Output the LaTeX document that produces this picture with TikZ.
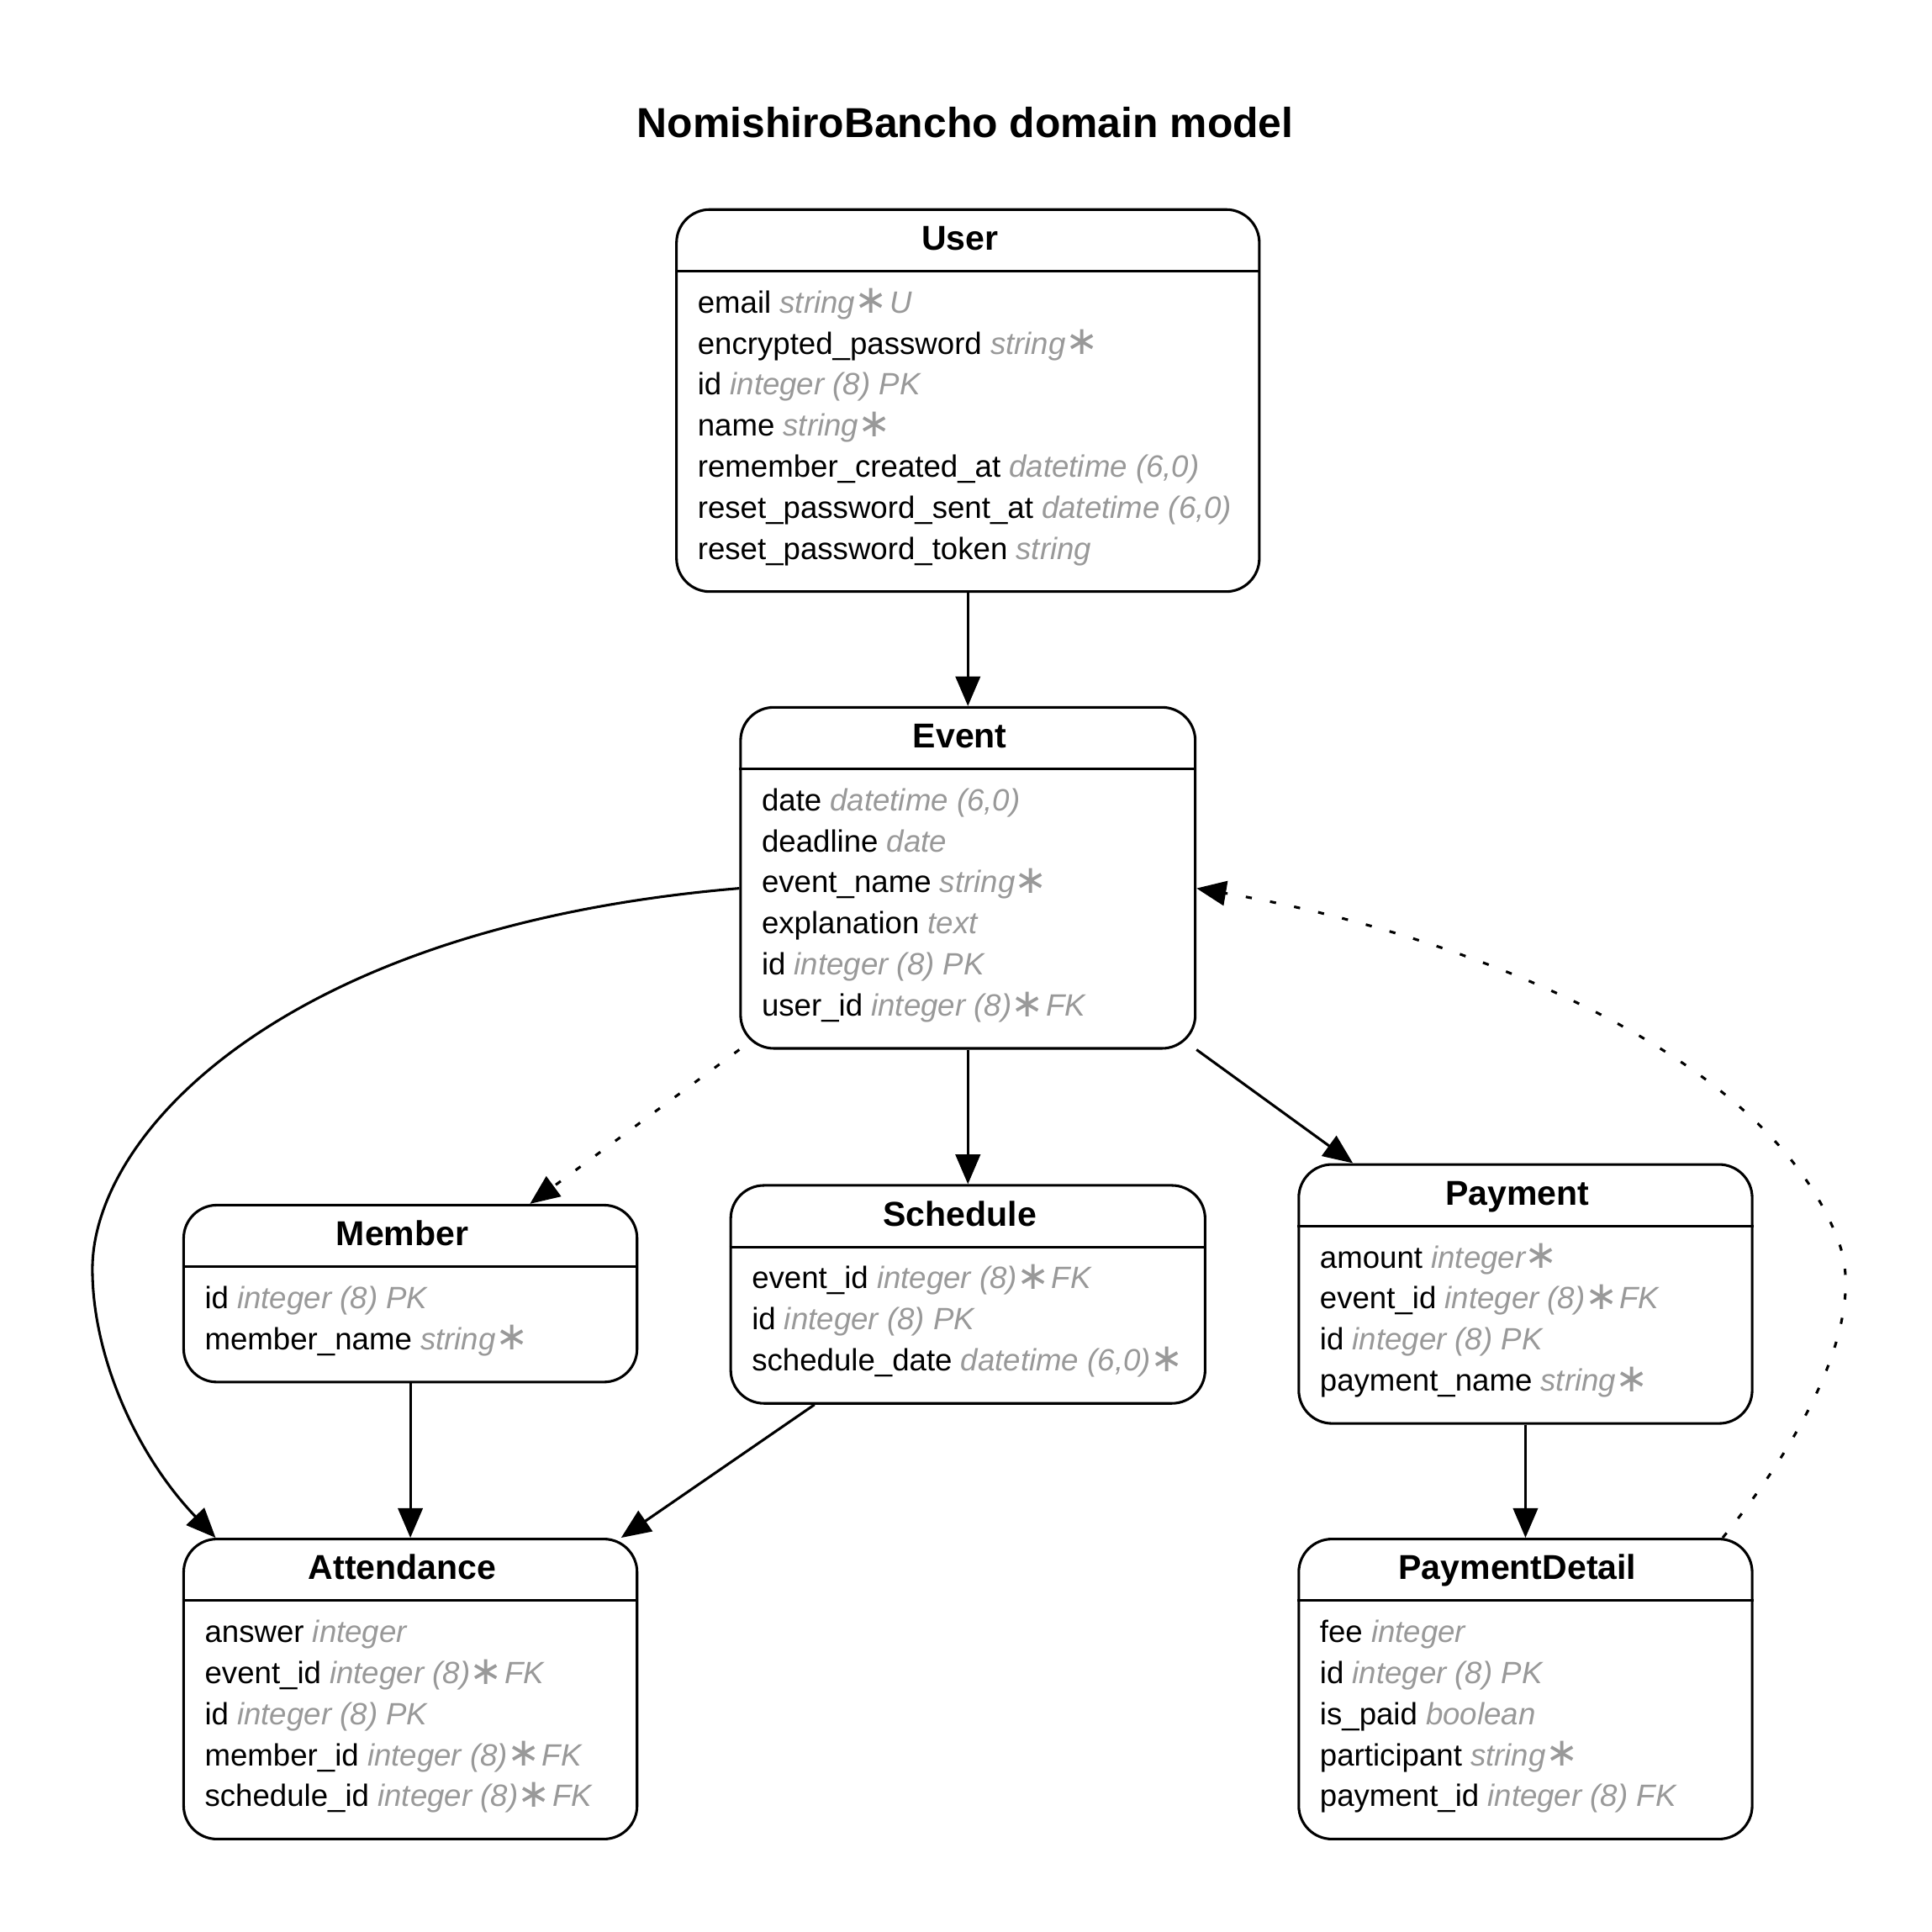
\documentclass[tikz,border=0pt]{standalone}
\usepackage{graphicx}
\usepackage{fontspec}
\setmainfont{Liberation Sans}
\newfontfamily\astfont{DejaVu Sans}
\usetikzlibrary{arrows.meta,calc}
\definecolor{ftype}{HTML}{999999}

% attribute type in grey italics, required marker
\newcommand\ty[1]{{\color{ftype}\itshape #1}}
\newcommand\req{\hspace{5pt}\makebox[16pt][c]{\raisebox{-0.5pt}{\scalebox{1.28}{\astfont\upshape ∗}}}}

% entity box: name, left x, top y, width, number of rows, title
\newcommand\entity[6]{%
  \node[entbox, minimum width=#4, minimum height={51+33.3*#5+26}, anchor=north west] (#1) at (#2,-#3) {};
  \draw[rule] ([yshift=-51]#1.north west) -- ([yshift=-51]#1.north east);
  \node[enttitle] (#1-title) at ([xshift=-6.5,yshift=-34]#1.north) {#6};
}
% attribute row: entity, row index, content
\newcommand\erow[3]{%
  \node[row] (#1-r#2) at ($(#1.north west)+(18,{-85-33.3*(#2-1)})$) {#3};
}

\begin{document}
\begin{tikzpicture}[x=1pt,y=1pt,
  entbox/.style={draw, line width=2.1pt, rounded corners=27pt, inner sep=0pt, fill=white},
  rule/.style={line width=2.1pt},
  enttitle/.style={anchor=base, inner sep=0pt, font=\fontsize{28}{34}\selectfont\bfseries},
  row/.style={anchor=base west, inner sep=0pt, font=\fontsize{25}{30}\selectfont},
  rel/.style={line width=2.1pt, -{Triangle[length=24pt,width=20pt]}},
  weak/.style={rel, dash pattern=on 5pt off 15pt},
]
\fill[white] (0,0) rectangle (1568,-1568);
\useasboundingbox (0,0) rectangle (1568,-1568);

\node[anchor=base, inner sep=0pt, font=\fontsize{34}{40}\selectfont\bfseries] (heading) at (783.4,-111.4) {NomishiroBancho domain model};

% entities
\entity{User}{548}{169}{473}{7}{User}
\erow{User}{1}{email \ty{string\req{} U}}
\erow{User}{2}{encrypted\_password \ty{string\req}}
\erow{User}{3}{id \ty{integer (8) PK}}
\erow{User}{4}{name \ty{string\req}}
\erow{User}{5}{remember\_created\_at \ty{datetime (6,0)}}
\erow{User}{6}{reset\_password\_sent\_at \ty{datetime (6,0)}}
\erow{User}{7}{reset\_password\_token \ty{string}}

\entity{Event}{600}{573}{369}{6}{Event}
\erow{Event}{1}{date \ty{datetime (6,0)}}
\erow{Event}{2}{deadline \ty{date}}
\erow{Event}{3}{event\_name \ty{string\req}}
\erow{Event}{4}{explanation \ty{text}}
\erow{Event}{5}{id \ty{integer (8) PK}}
\erow{Event}{6}{user\_id \ty{integer (8)\req{} FK}}

\entity{Member}{148}{977}{368}{2}{Member}
\erow{Member}{1}{id \ty{integer (8) PK}}
\erow{Member}{2}{member\_name \ty{string\req}}

\entity{Schedule}{592}{961}{385}{3}{Schedule}
\erow{Schedule}{1}{event\_id \ty{integer (8)\req{} FK}}
\erow{Schedule}{2}{id \ty{integer (8) PK}}
\erow{Schedule}{3}{schedule\_date \ty{datetime (6,0)\req}}

\entity{Payment}{1053}{944}{368}{4}{Payment}
\erow{Payment}{1}{amount \ty{integer\req}}
\erow{Payment}{2}{event\_id \ty{integer (8)\req{} FK}}
\erow{Payment}{3}{id \ty{integer (8) PK}}
\erow{Payment}{4}{payment\_name \ty{string\req}}

\entity{Attendance}{148}{1248}{368}{5}{Attendance}
\erow{Attendance}{1}{answer \ty{integer}}
\erow{Attendance}{2}{event\_id \ty{integer (8)\req{} FK}}
\erow{Attendance}{3}{id \ty{integer (8) PK}}
\erow{Attendance}{4}{member\_id \ty{integer (8)\req{} FK}}
\erow{Attendance}{5}{schedule\_id \ty{integer (8)\req{} FK}}

\entity{PaymentDetail}{1053}{1248}{368}{5}{PaymentDetail}
\erow{PaymentDetail}{1}{fee \ty{integer}}
\erow{PaymentDetail}{2}{id \ty{integer (8) PK}}
\erow{PaymentDetail}{3}{is\_paid \ty{boolean}}
\erow{PaymentDetail}{4}{participant \ty{string\req}}
\erow{PaymentDetail}{5}{payment\_id \ty{integer (8) FK}}

% relationships
\draw[rel] (User.south) -- (Event.north);
\draw[rel] (Event.south) -- (Schedule.north);
\draw[rel] (Event.south east) -- ([xshift=45]Payment.north west);
\draw[weak] (Event.south west) -- ([xshift=-88]Member.north east);
\draw[rel] (Member.south) -- (Attendance.north);
\draw[rel] ([xshift=69]Schedule.south west) -- ([xshift=-14]Attendance.north east);
\draw[rel] (Payment.south) -- (PaymentDetail.north);
\draw[rel] ([yshift=-8.5]Event.west) .. controls (230,-752) and (75,-920) .. (75,-1030)
  .. controls (75,-1100) and (110,-1180) .. ([xshift=27]Attendance.north west);
\draw[weak] ([xshift=-25]PaymentDetail.north east) .. controls (1470,-1160) and (1513,-1068) .. (1493,-1010)
  .. controls (1440,-860) and (1200,-760) .. ([yshift=-8.5]Event.east);
\end{tikzpicture}
\end{document}
